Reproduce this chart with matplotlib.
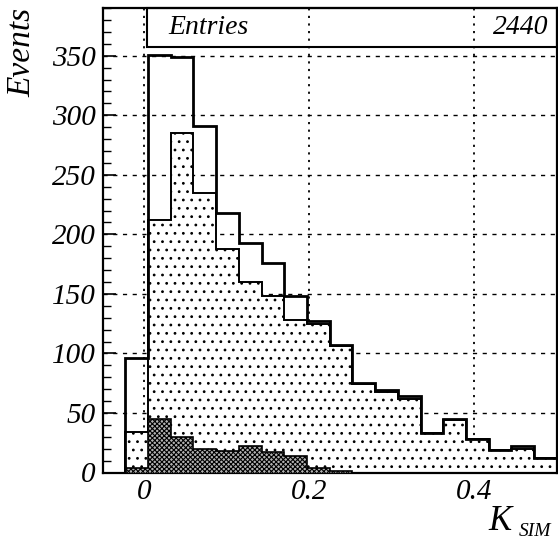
import numpy as np
import matplotlib
matplotlib.use('Agg')
import matplotlib.pyplot as plt
from matplotlib.patches import Rectangle
from matplotlib.ticker import MultipleLocator, FixedLocator

# 20 bins from -0.05 to 0.5
edges = np.linspace(-0.05, 0.5, 21)
total = [0, 96, 351, 349, 291, 218, 193, 176, 148, 127,
         107, 75, 69, 64, 33, 45, 28, 19, 22, 12]
dotted = [0, 34, 212, 285, 235, 188, 160, 148, 128, 125,
          106, 74, 68, 62, 33, 44, 28, 19, 20, 12]
dark = [0, 3.5, 45, 30, 20, 18, 22, 17, 14, 3.5,
        1, 0, 0, 0, 0, 0, 0, 0, 0, 0]
entries = 2440
xticks = [0, 0.2, 0.4]
xticklabels = ['0', '0.2', '0.4']

plt.rcParams['font.family'] = ['Liberation Serif', 'DejaVu Serif']
plt.rcParams['font.style'] = 'italic'
plt.rcParams['hatch.linewidth'] = 0.8

fig = plt.figure(figsize=(5.58, 5.40), dpi=100)
ax = fig.add_axes([0.184, 0.125, 0.8137, 0.860])

# histograms
ax.stairs(dotted, edges, fill=True, facecolor='white', edgecolor='black',
          hatch='..', lw=1.4, zorder=2)
ax.stairs(dark, edges, fill=True, facecolor='0.7', edgecolor='black',
          hatch='xxxxxxx', lw=1.2, zorder=3)
ax.stairs(total, edges, fill=False, edgecolor='black', lw=2.0, zorder=4)

ax.set_xlim(-0.05, 0.5)
ax.set_ylim(0, 390)

# grid: dashed horizontal, dotted vertical
ax.set_axisbelow(True)
ax.yaxis.set_major_locator(MultipleLocator(50))
ax.yaxis.set_minor_locator(MultipleLocator(10))
ax.xaxis.set_major_locator(FixedLocator(xticks))
ax.set_xticklabels(xticklabels)
ax.yaxis.grid(True, linestyle=(0, (3, 4)), color='black', lw=1.0)
ax.xaxis.grid(True, linestyle=(0, (1.2, 3)), color='black', lw=1.3)

ax.tick_params(axis='y', which='major', direction='in', length=9, width=1.2,
               labelsize=21, pad=5)
ax.tick_params(axis='y', which='minor', direction='in', length=6, width=1.0)
ax.tick_params(axis='x', which='major', direction='in', length=4, width=1.0,
               labelsize=21, pad=5)
for s in ax.spines.values():
    s.set_linewidth(1.6)

# stats box
ax.add_patch(Rectangle((0.0976, 0.916), 0.9024, 0.084, transform=ax.transAxes,
                       facecolor='none', edgecolor='black', lw=1.5,
                       zorder=5, clip_on=False))
ax.text(0.145, 0.958, 'Entries', transform=ax.transAxes, fontsize=20,
        ha='left', va='center', zorder=6)
ax.text(0.982, 0.958, str(entries), transform=ax.transAxes, fontsize=20,
        ha='right', va='center', zorder=6)

# axis titles
fig.text(0.876, 0.018, 'K', ha='left', va='baseline', fontsize=25)
fig.text(0.929, 0.008, 'SIM', ha='left', va='baseline', fontsize=14)
fig.text(0.039, 0.986, 'Events', rotation=90, ha='center', va='top', fontsize=24)

fig.savefig('out.png', dpi=100)
